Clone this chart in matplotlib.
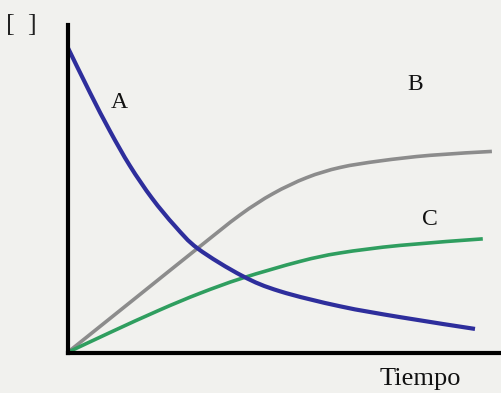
"""
Concentration vs time sketch: reactant A falls, B and C rise.
"""

import matplotlib
matplotlib.use("Agg")
import matplotlib.pyplot as plt
from matplotlib.path import Path
from matplotlib.patches import PathPatch

# ─────────────────────────────────────────
# DATA (arbitrary units)
# ─────────────────────────────────────────
time_a = [0.0, 0.52, 0.98, 1.44, 1.95, 2.48, 3.01, 4.03, 4.90, 6.29, 7.67, 9.40]
conc_a = [9.33, 7.93, 6.76, 5.70, 4.71, 3.86, 3.17, 2.34, 1.87, 1.41, 1.08, 0.72]

time_b = [0.0, 1.51, 2.99, 3.98, 4.74, 5.52, 6.29, 7.21, 8.36, 9.79]
conc_b = [0.0, 1.60, 3.17, 4.20, 4.85, 5.34, 5.65, 5.85, 6.02, 6.14]

time_c = [0.0, 0.98, 2.13, 3.06, 4.03, 5.36, 6.29, 7.67, 9.58]
conc_c = [0.0, 0.61, 1.30, 1.81, 2.27, 2.78, 3.04, 3.27, 3.47]

labels = ["A", "B", "C"]
label_pos = [(119, 103), (415, 84), (430, 219)]   # pixel positions

BG = "#f1f1ee"
W, H = 501, 393


def smooth_path(xs, ys):
    """Catmull-Rom through the points, drawn as cubic Bezier segments."""
    pts = list(zip(xs, ys))
    verts = [pts[0]]
    codes = [Path.MOVETO]
    for i in range(len(pts) - 1):
        p0 = pts[i - 1] if i > 0 else pts[i]
        p1, p2 = pts[i], pts[i + 1]
        p3 = pts[i + 2] if i + 2 < len(pts) else pts[i + 1]
        c1 = (p1[0] + (p2[0] - p0[0]) / 6, p1[1] + (p2[1] - p0[1]) / 6)
        c2 = (p2[0] - (p3[0] - p1[0]) / 6, p2[1] - (p3[1] - p1[1]) / 6)
        verts += [c1, c2, p2]
        codes += [Path.CURVE4] * 3
    return Path(verts, codes)


# ─────────────────────────────────────────
# FIGURE
# ─────────────────────────────────────────
fig = plt.figure(figsize=(W / 100, H / 100), dpi=100, facecolor=BG)
ax = fig.add_axes([67.5 / W, (H - 352.5) / H, (W - 67.5) / W, (352.5 - 25) / H])
ax.set_facecolor(BG)

curves = [
    (time_b, conc_b, "#8c8c8c", 2.6, 2),
    (time_c, conc_c, "#2f9e5f", 2.6, 2),
    (time_a, conc_a, "#2e2e9c", 3.0, 3),
]
for xs, ys, col, lw, z in curves:
    ax.add_patch(PathPatch(smooth_path(xs, ys), facecolor="none", edgecolor=col,
                           lw=lw, capstyle="butt", zorder=z))

ax.set_xlim(0, 10)
ax.set_ylim(0, 10)
ax.set_xticks([])
ax.set_yticks([])
for side in ("top", "right"):
    ax.spines[side].set_visible(False)
for side in ("left", "bottom"):
    ax.spines[side].set_linewidth(3)
    ax.spines[side].set_color("black")
    ax.spines[side].set_zorder(4)

serif = ["Liberation Serif", "DejaVu Serif"]
for lab, (px, py) in zip(labels, label_pos):
    fig.text(px / W, 1 - py / H, lab, ha="center", va="center",
             fontsize=17, family=serif, color="#111111")

fig.text(21 / W, 1 - 25 / H, "[  ]", ha="center", va="center",
         fontsize=19, family=serif, color="#222222")
fig.text(420 / W, 1 - 379 / H, "Tiempo", ha="center", va="center",
         fontsize=19, family=serif, color="#111111")

plt.savefig("out.png", dpi=100, facecolor=BG)
plt.close()
